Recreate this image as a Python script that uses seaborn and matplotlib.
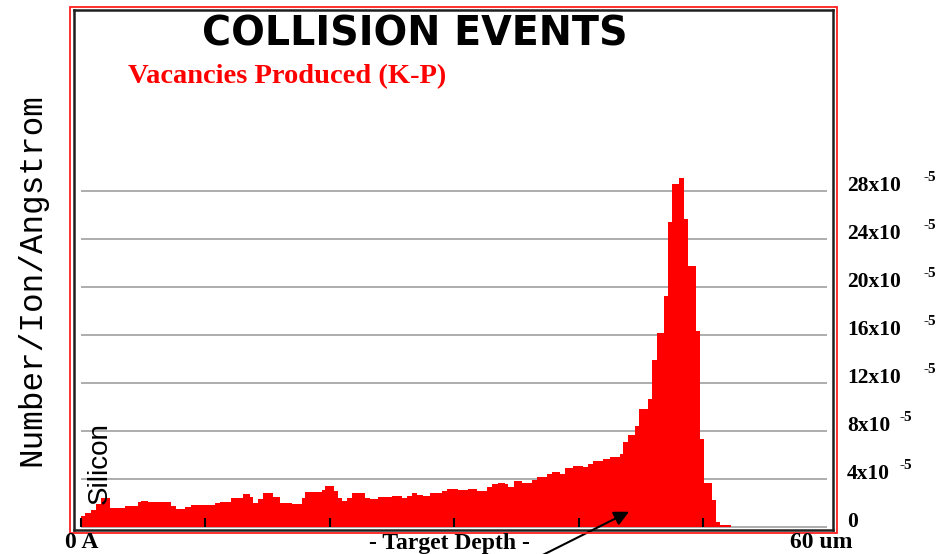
import numpy as np
import seaborn as sns
import matplotlib.pyplot as plt
from matplotlib.patches import Rectangle
from matplotlib.transforms import blended_transform_factory

# depth bin edges (um) and vacancies per bin (x 1e-5 number/ion/Angstrom)
depth_edges = [0.00, 0.32, 0.80, 1.21, 1.61, 2.33, 3.54, 4.58, 4.82, 5.39,
               7.23, 7.64, 8.36, 8.84, 10.77, 11.17, 12.06, 13.02, 13.59, 13.83,
               14.23, 14.63, 15.43, 16.00, 16.96, 17.77, 18.01, 19.37, 19.61, 20.34,
               20.66, 20.98, 21.38, 21.78, 22.83, 23.23, 23.87, 25.00, 25.80, 26.21,
               26.61, 27.01, 27.49, 28.05, 29.02, 29.42, 30.31, 31.11, 31.83, 32.64,
               33.04, 33.52, 34.08, 34.32, 34.81, 35.45, 36.25, 36.66, 37.46, 37.86,
               38.50, 38.91, 39.55, 40.35, 40.76, 41.16, 41.96, 42.52, 43.33, 43.57,
               43.97, 44.53, 44.86, 45.58, 45.90, 46.30, 46.87, 47.19, 47.51, 48.07,
               48.47, 48.79, 49.44, 49.76, 50.08, 50.72, 51.05, 51.37, 52.25]
vacancies = [0.9, 1.2, 1.4, 1.9, 2.4, 1.6, 1.75, 2.1, 2.2, 2.1,
             1.75, 1.5, 1.7, 1.85, 2.0, 2.1, 2.4, 2.75, 2.5, 2.0,
             2.3, 2.8, 2.5, 2.0, 1.9, 2.4, 2.9, 3.1, 3.4, 3.0,
             2.4, 2.2, 2.45, 2.8, 2.45, 2.3, 2.5, 2.6, 2.4, 2.6,
             2.8, 2.7, 2.6, 2.8, 3.0, 3.2, 3.05, 3.2, 3.0, 3.35,
             3.6, 3.7, 3.55, 3.35, 3.8, 3.7, 3.9, 4.15, 4.4, 4.55,
             4.4, 4.9, 5.1, 5.0, 5.25, 5.5, 5.7, 5.8, 6.1, 7.1,
             7.7, 8.4, 9.8, 10.7, 13.9, 16.2, 19.25, 25.4, 28.6, 29.05,
             25.7, 21.75, 16.3, 7.3, 3.7, 2.25, 0.45, 0.15]

y_ticks = [0, 4, 8, 12, 16, 20, 24, 28]
x_ticks = [0, 10, 20, 30, 40, 50]

W, H = 941, 554


def fx(px):
    return px / W


def fy(py):
    return 1 - py / H


sns.set_style('white')
plt.rcParams['text.color'] = 'black'

fig = plt.figure(figsize=(9.41, 5.54), dpi=100)
ax = fig.add_axes([fx(74), fy(529.5), fx(833) - fx(74), fy(10) - fy(529.5)])

centers = [(a + b) / 2 for a, b in zip(depth_edges[:-1], depth_edges[1:])]
sns.histplot(x=centers, weights=vacancies, bins=depth_edges, element='step',
             fill=True, color='#ff0000', alpha=1, linewidth=0, ax=ax, zorder=2)

# grid lines
ax.hlines(y_ticks, 0, 60, color='#a0a0a0', lw=1.2, zorder=1)
# small ticks on the depth axis
ax.vlines(x_ticks, 0, 0.75, color='black', lw=1.5, zorder=3)

ax.set_xlim(-0.56, 60.45)
ax.set_ylim(-0.21, 43.08)
ax.set_xticks([])
ax.set_yticks([])
ax.set_xlabel('')
ax.set_ylabel('')
for sp in ax.spines.values():
    sp.set_color('#202020')
    sp.set_linewidth(1.8)

# outer red frame
fig.patches.append(Rectangle((fx(70), fy(532.5)), fx(836.5) - fx(70), fy(7) - fy(532.5),
                             transform=fig.transFigure, fill=False,
                             edgecolor='#ff2020', lw=1.3))

serif = ['Liberation Serif', 'DejaVu Serif']
sans = ['Liberation Sans', 'DejaVu Sans']

fig.text(fx(414.5), fy(45), 'COLLISION EVENTS', ha='center', va='baseline',
         family=['DejaVu Sans'], weight='bold', fontsize=28.5, color='black')
fig.text(fx(128), fy(83.5), 'Vacancies Produced (K-P)', ha='left', va='baseline',
         family=serif, weight='bold', fontsize=20.5, color='#ff0000')
fig.text(fx(32), fy(280), 'Number/Ion/Angstrom', rotation=90, ha='center', va='center',
         family=['Liberation Mono', 'DejaVu Sans Mono'], fontsize=23.5)
fig.text(fx(99.5), fy(463.5), 'Silicon', rotation=90, ha='center', va='center',
         family=sans, fontsize=20)

# depth axis labels
fig.text(fx(65), fy(553.5), '0 A', ha='left', va='bottom', family=serif,
         weight='bold', fontsize=17)
fig.text(fx(449), fy(553.5), '- Target Depth -', ha='center', va='bottom',
         family=serif, weight='bold', fontsize=17)
fig.text(fx(790), fy(553.5), '60 um', ha='left', va='bottom', family=serif,
         weight='bold', fontsize=17)

# right-hand value labels
trans = blended_transform_factory(fig.transFigure, ax.transData)
for v in y_ticks:
    if v == 0:
        ax.text(fx(847), v, '0', transform=trans, ha='left', va='baseline',
                family=serif, weight='bold', fontsize=15.5, clip_on=False)
        continue
    ax.text(fx(847), v, f'{v}x10', transform=trans, ha='left', va='baseline',
            family=serif, weight='bold', fontsize=15.5, clip_on=False)
    sup_x = 923 if v >= 10 else 900
    ax.annotate('-5', xy=(fx(sup_x), v), xycoords=trans, xytext=(0, 7.5),
                textcoords='offset points', ha='left', va='baseline',
                family=serif, weight='bold', fontsize=11, annotation_clip=False)

# arrow pointing into the damage region
ax.annotate('', xy=(44.05, 1.27), xytext=(36.8, -2.5),
            arrowprops=dict(arrowstyle='-|>', color='black', lw=1.5,
                            mutation_scale=22, shrinkA=0, shrinkB=0),
            annotation_clip=False)

fig.savefig('out.png', dpi=100)
